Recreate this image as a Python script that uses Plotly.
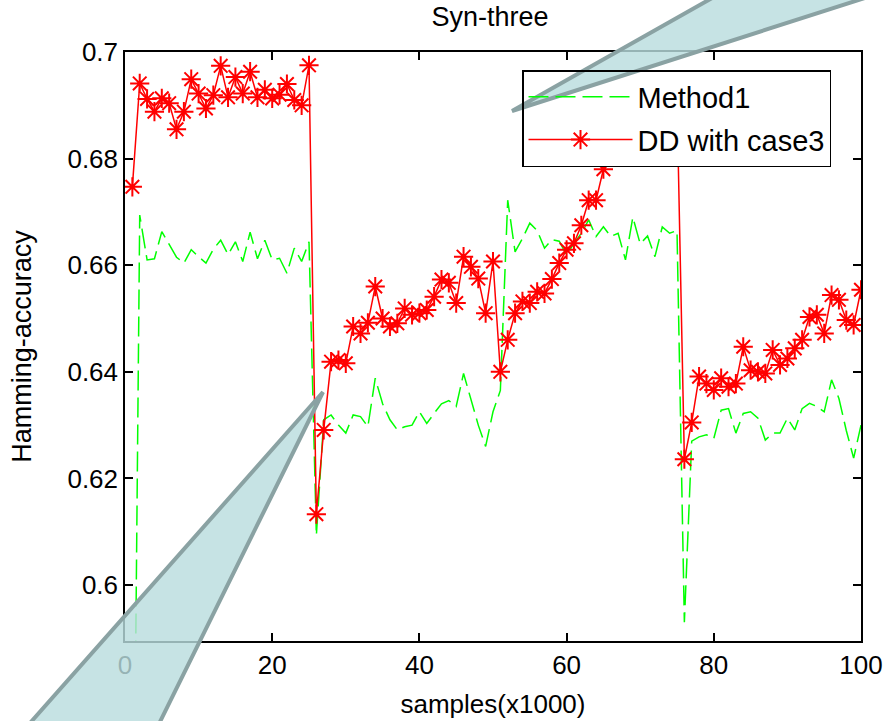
import plotly.graph_objects as go

samples = list(range(1, 101))

method1 = [
    0.5200, 0.6694, 0.6610, 0.6612, 0.6663, 0.6640, 0.6615, 0.6604, 0.6629, 0.6616,
    0.6604, 0.6630, 0.6647, 0.6620, 0.6644, 0.6607, 0.6662, 0.6612, 0.6647, 0.6610,
    0.6613, 0.6585, 0.6632, 0.6607, 0.6644, 0.6093, 0.6310, 0.6319, 0.6300, 0.6285,
    0.6319, 0.6316, 0.6297, 0.6388, 0.6340, 0.6310, 0.6291, 0.6297, 0.6300, 0.6325,
    0.6303, 0.6322, 0.6340, 0.6346, 0.6335, 0.6397, 0.6350, 0.6300, 0.6260, 0.6325,
    0.6365, 0.6722, 0.6625, 0.6650, 0.6679, 0.6665, 0.6632, 0.6648, 0.6645, 0.6619,
    0.6641, 0.6660, 0.6685, 0.6654, 0.6672, 0.6654, 0.6660, 0.6610, 0.6690, 0.6640,
    0.6655, 0.6616, 0.6672, 0.6660, 0.6665, 0.5930, 0.6270, 0.6278, 0.6282, 0.6275,
    0.6328, 0.6331, 0.6285, 0.6322, 0.6325, 0.6313, 0.6272, 0.6285, 0.6285, 0.6313,
    0.6291, 0.6331, 0.6341, 0.6335, 0.6325, 0.6385, 0.6350, 0.6290, 0.6238, 0.6300,
]

dd_case3 = [
    0.6747, 0.6941, 0.6912, 0.6888, 0.6913, 0.6904, 0.6855, 0.6888, 0.6949, 0.6922,
    0.6894, 0.6919, 0.6974, 0.6915, 0.6953, 0.6922, 0.6963, 0.6915, 0.6929, 0.6913,
    0.6920, 0.6940, 0.6910, 0.6900, 0.6975, 0.6133, 0.6291, 0.6419, 0.6422, 0.6416,
    0.6485, 0.6472, 0.6492, 0.6560, 0.6500, 0.6485, 0.6491, 0.6519, 0.6507, 0.6510,
    0.6516, 0.6541, 0.6573, 0.6567, 0.6529, 0.6616, 0.6597, 0.6575, 0.6510, 0.6607,
    0.6400, 0.6460, 0.6510, 0.6532, 0.6529, 0.6550, 0.6547, 0.6574, 0.6604, 0.6629,
    0.6641, 0.6675, 0.6722, 0.6722, 0.6780, 0.6810, 0.6830, 0.6820, 0.6850, 0.6870,
    0.6860, 0.6890, 0.6900, 0.6880, 0.6910, 0.6236, 0.6305, 0.6391, 0.6378, 0.6366,
    0.6388, 0.6372, 0.6378, 0.6447, 0.6403, 0.6400, 0.6397, 0.6441, 0.6413, 0.6425,
    0.6444, 0.6460, 0.6503, 0.6507, 0.6472, 0.6544, 0.6535, 0.6497, 0.6488, 0.6554,
]

x_ticks = [0, 20, 40, 60, 80, 100]
x_tick_labels = ["0", "20", "40", "60", "80", "100"]
y_ticks = [0.60, 0.62, 0.64, 0.66, 0.68, 0.70]
y_tick_labels = ["0.6", "0.62", "0.64", "0.66", "0.68", "0.7"]

FONT = "Liberation Sans, Arial, sans-serif"

fig = go.Figure()
fig.add_trace(go.Scatter(
    x=samples, y=method1, mode="lines", name="Method1", legendgroup="m1",
    line=dict(color="#00ff00", width=1.5, dash="20px,7px"),
))
fig.add_trace(go.Scatter(
    x=samples, y=dd_case3, mode="lines+markers", name="DD with case3", legendgroup="dd",
    line=dict(color="#ff0000", width=1.5),
    marker=dict(symbol="asterisk-open", size=16, color="#ff0000",
                line=dict(color="#ff0000", width=2)),
))

# plot area in px: left 125, right 861, top 52, bottom 641
W, H = 736.0, 589.0
def px(xp):
    return (xp - 125) / W
def py(yp):
    return (641 - yp) / H

shapes = [
    # white backing of the legend box
    dict(type="rect", xref="paper", yref="paper", layer="above",
         x0=px(522), x1=px(830), y0=py(166), y1=py(70),
         fillcolor="white", line=dict(width=0)),
    # callout triangle, top right
    dict(type="path", xref="paper", yref="paper", layer="above",
         path=f"M {px(512)},{py(111)} L {px(744)},{py(-20)} L {px(921)},{py(-20)} Z",
         fillcolor="rgba(185,220,222,0.81)", line=dict(color="rgb(138,162,163)", width=4)),
    # callout triangle, bottom left
    dict(type="path", xref="paper", yref="paper", layer="above",
         path=f"M {px(323)},{py(392)} L {px(15)},{py(740)} L {px(151)},{py(740)} Z",
         fillcolor="rgba(185,220,222,0.81)", line=dict(color="rgb(138,162,163)", width=4)),
]

fig.update_layout(
    width=884, height=721,
    margin=dict(l=125, r=23, t=52, b=80, autoexpand=False),
    paper_bgcolor="white", plot_bgcolor="white",
    font=dict(family=FONT, size=26, color="black"),
    title=dict(text="Syn-three", x=490 / 884, xanchor="center",
               y=1 - 17 / 721, yanchor="middle", yref="container",
               font=dict(size=27, family=FONT, color="black")),
    showlegend=True,
    legend=dict(x=px(522), y=py(70), xanchor="left", yanchor="top",
                bgcolor="rgba(0,0,0,0)", bordercolor="black", borderwidth=1.5,
                font=dict(size=29, family=FONT, color="black"),
                itemwidth=104, tracegroupgap=2),
    shapes=shapes,
)
fig.update_xaxes(
    range=[0, 100], tickvals=x_ticks, ticktext=x_tick_labels,
    ticks="inside", ticklen=8, tickwidth=1.5, tickcolor="black",
    showline=True, linecolor="black", linewidth=1.5, mirror="ticks",
    showgrid=False, zeroline=False, automargin=False,
    tickfont=dict(size=26, family=FONT),
    title=dict(text="samples(x1000)", font=dict(size=26, family=FONT), standoff=16),
)
fig.update_yaxes(
    range=[0.5895, 0.7], tickvals=y_ticks, ticktext=y_tick_labels,
    ticks="inside", ticklen=8, tickwidth=1.5, tickcolor="black",
    showline=True, linecolor="black", linewidth=1.5, mirror="ticks",
    showgrid=False, zeroline=False, automargin=False,
    tickfont=dict(size=26, family=FONT),
    title=dict(text="Hamming-accuracy", font=dict(size=27, family=FONT), standoff=28),
)

fig.write_html("out.html", config={"displayModeBar": False},
               post_script="document.body.style.margin='0';")
